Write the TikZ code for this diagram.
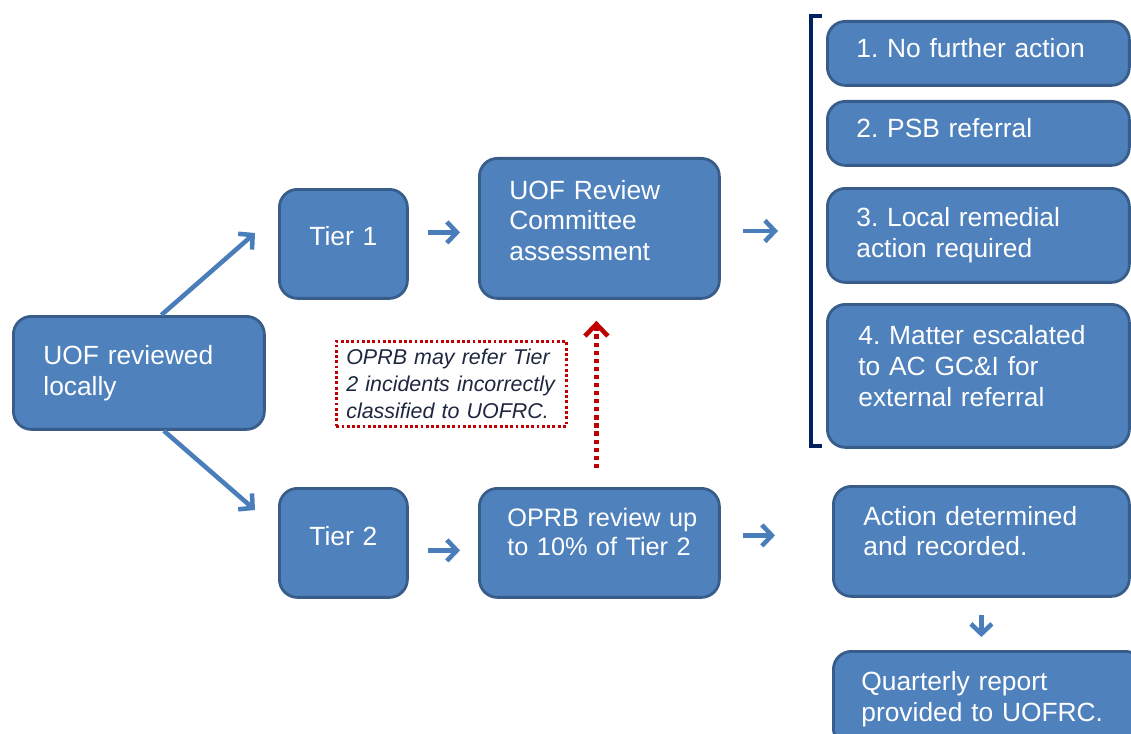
\documentclass[tikz,border=0pt]{standalone}
\usepackage{fontspec}
\setmainfont{Liberation Sans}
\usepackage{tikz}
\usetikzlibrary{arrows.meta}
\usetikzlibrary{calc,shapes}

\definecolor{boxblue}{HTML}{4F81BD}
\definecolor{boxline}{HTML}{385D8A}
\definecolor{arrblue}{HTML}{4A7EBB}
\definecolor{notered}{HTML}{C00000}
\definecolor{brknavy}{HTML}{002060}
\definecolor{notetext}{HTML}{1F2740}

\hyphenpenalty=10000
\exhyphenpenalty=10000
\frenchspacing

\tikzset{
  blk/.style={draw=boxline,fill=boxblue,line width=1.6pt,rounded corners=0.36cm,
    text=white,anchor=north west,align=left,inner ysep=0pt,
    font=\fontsize{15}{17.5}\selectfont},
  arr/.style={arrblue,line width=2.6pt,-{Straight Barb[length=0.2cm,width=0.42cm]}},
  notebox/.style={draw=notered,line width=1.5pt,dash pattern=on 1.6pt off 1.4pt,
    anchor=north west,align=left,inner xsep=0.2cm,text width=4.2cm,minimum height=1.7cm,
    text=notetext,font=\fontsize{12.2}{15.3}\selectfont\itshape},
  refarr/.style={notered,line width=2.6pt,dash pattern=on 2.4pt off 2.2pt,
    -{Straight Barb[length=0.24cm,width=0.46cm]}},
}

\begin{document}
\begin{tikzpicture}[x=0.02cm,y=-0.02cm]
\useasboundingbox (0,0) rectangle (1131,733);
% Boxes
\node[blk,inner xsep=0.6cm,text width=3.82cm,minimum height=2.26cm] (local) at (12,315) {UOF reviewed\\locally};
\node[blk,align=center,inner xsep=0.2cm,text width=2.16cm,minimum height=2.18cm,text depth=0.31cm] (tier1) at (278,188) {Tier 1};
\node[blk,align=center,inner xsep=0.2cm,text width=2.16cm,minimum height=2.18cm,text depth=0.27cm] (tier2) at (278,487) {Tier 2};
\node[blk,inner xsep=0.6cm,text width=3.6cm,minimum height=2.8cm,text depth=1.55cm] (ucom) at (478,157) {UOF Review\\Committee\\assessment};
\node[blk,inner xsep=0.56cm,text width=3.68cm,minimum height=2.18cm,text depth=1.03cm,font=\fontsize{14.4}{16.8}\selectfont] (oprb) at (478,487) {\makebox[4.12cm][s]{OPRB review up}\\to 10\% of Tier 2};
\node[blk,inner xsep=0.58cm,text width=4.88cm,minimum height=1.28cm,text depth=0.23cm] (act1) at (826,20) {1. No further action};
\node[blk,inner xsep=0.58cm,text width=4.88cm,minimum height=1.28cm,text depth=0.23cm] (act2) at (826,100) {2. PSB referral};
\node[blk,inner xsep=0.58cm,text width=4.88cm,minimum height=1.88cm] (act3) at (826,187) {3. Local remedial\\action required};
\node[blk,inner xsep=0.62cm,text width=4.8cm,minimum height=2.86cm,text depth=1.63cm] (act4) at (826,303) {4. Matter escalated\\to AC GC\&I for\\external referral};
\node[blk,inner xsep=0.6cm,text width=4.72cm,minimum height=2.2cm,text depth=1.03cm] (rec) at (832,485) {Action determined\\and recorded.};
\node[blk,inner xsep=0.56cm,text width=5.08cm,minimum height=1.9cm] (qrt) at (832,650) {Quarterly report\\provided to UOFRC.};
\node[notebox] (note) at (335,340) {OPRB may refer Tier\\2 incidents incorrectly\\classified to UOFRC.};
% Bracket
\coordinate (brk) at (811,231);
\draw[brknavy,line width=2.6pt] (822,16) -| (811,446) -- (822,446);
% Arrows
\coordinate (up) at (255,233);
\coordinate (dn) at (255,510);
\draw[arr] ([xshift=0.45cm]local.north) -- (up);
\draw[arr] ([xshift=0.5cm]local.south) -- (dn);
\draw[arr,shorten <=0.38cm,shorten >=0.36cm] ([yshift=0.23cm]tier1.east) -- ([yshift=0.23cm]tier1.east -| ucom.west);
\draw[arr,shorten <=0.44cm,shorten >=0.66cm] (ucom.east |- brk) -- (brk);
\draw[arr,shorten <=0.38cm,shorten >=0.36cm] ([yshift=-0.15cm]tier2.east) -- ([yshift=-0.15cm]tier2.east -| oprb.west);
\draw[arr,shorten <=0.44cm,shorten >=1.14cm] ([yshift=0.15cm]oprb.east) -- ([yshift=0.15cm]oprb.east -| rec.west);
\draw[arr,shorten <=0.34cm,shorten >=0.26cm] (rec.south) -- (rec.south |- qrt.north);
\draw[refarr,shorten <=0.38cm,shorten >=0.42cm] ([xshift=-0.06cm]oprb.north) -- ([xshift=-0.06cm]oprb.north |- ucom.south);
\end{tikzpicture}
\end{document}
